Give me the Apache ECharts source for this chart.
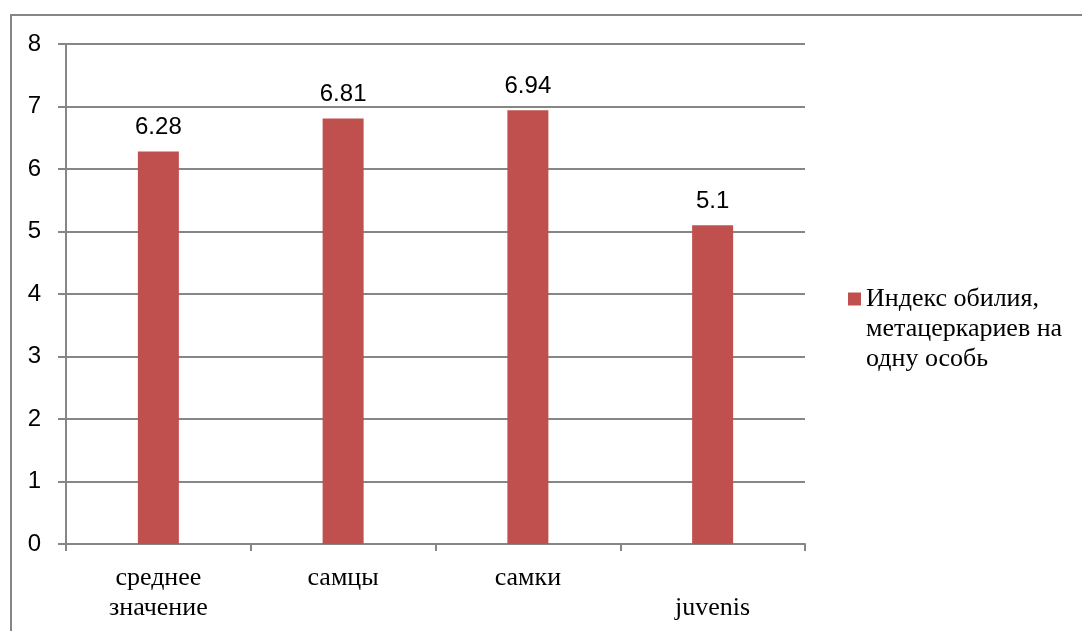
<!DOCTYPE html>
<html>
<head>
<meta charset="utf-8">
<script src="https://cdn.jsdelivr.net/npm/echarts@6/dist/echarts.min.js"></script>
<style>
  html, body { margin: 0; padding: 0; background: #fff; }
  #chart { width: 1082px; height: 631px; }
</style>
</head>
<body>
<div id="chart"></div>
<script>
// категории и значения
const categories = ["среднее\nзначение", "самцы", "самки", "\njuvenis"];
const values = [6.28, 6.81, 6.94, 5.1];
const seriesName = "Индекс обилия,\nметацеркариев на\nодну особь";
const yTicks = [0, 8, 1];

const myChart = echarts.init(document.getElementById("chart"));
myChart.setOption({
  animation: false,
  graphic: [
    {
      type: "rect",
      shape: { x: 11, y: 15, width: 1200, height: 800 },
      style: { fill: "none", stroke: "#868686", lineWidth: 2 },
      silent: true,
    },
  ],
  grid: { left: 66, top: 44, width: 739, height: 500 },
  legend: {
    left: 843,
    top: 219,
    itemWidth: 13,
    itemHeight: 13,
    icon: "rect",
    // две пустые строки сверху, чтобы значок стоял у первой строки
    formatter: function (name) {
      return "\n\n" + name;
    },
    textStyle: {
      fontFamily: "Liberation Serif",
      fontSize: 26,
      lineHeight: 30,
      color: "#000",
    },
    data: [seriesName],
  },
  xAxis: {
    type: "category",
    data: categories,
    axisLine: { lineStyle: { color: "#868686", width: 2 } },
    axisTick: { show: true, length: 7, lineStyle: { color: "#868686", width: 2 } },
    axisLabel: {
      fontFamily: "Liberation Serif",
      fontSize: 26,
      lineHeight: 30,
      color: "#000",
      margin: 19,
      verticalAlign: "top",
    },
  },
  yAxis: {
    type: "value",
    min: yTicks[0],
    max: yTicks[1],
    interval: yTicks[2],
    axisLine: { show: true, lineStyle: { color: "#868686", width: 2 } },
    axisTick: { show: true, length: 8, lineStyle: { color: "#868686", width: 2 } },
    splitLine: { lineStyle: { color: "#868686", width: 2 } },
    axisLabel: {
      fontFamily: "Liberation Sans",
      fontSize: 24,
      color: "#000",
      margin: 25,
    },
  },
  series: [
    {
      name: seriesName,
      type: "bar",
      data: values,
      barWidth: 41,
      itemStyle: { color: "#C0504D" },
      label: {
        show: true,
        position: "top",
        distance: 12,
        fontFamily: "Liberation Sans",
        fontSize: 24,
        color: "#000",
      },
    },
  ],
});
window.addEventListener("resize", function () {
  myChart.resize();
});
</script>
</body>
</html>
